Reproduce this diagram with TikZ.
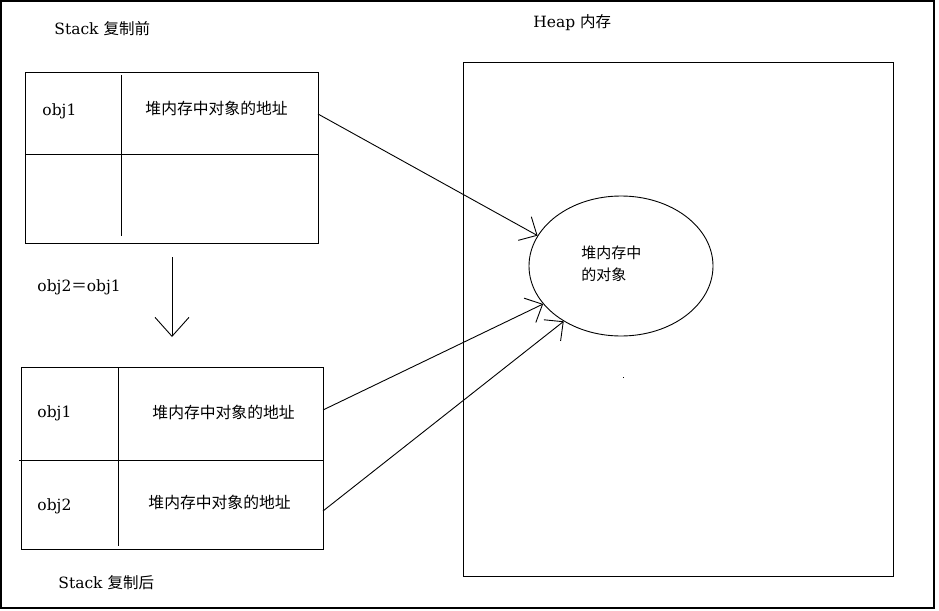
\documentclass[tikz,border=0pt]{standalone}
\usepackage{fontspec}
\setmainfont{DejaVu Serif}
\newfontfamily\cjk{Noto Sans CJK SC}
\usetikzlibrary{arrows.meta,shapes.geometric}
\begin{document}
\begin{tikzpicture}[x=1pt,y=-1pt,
  line width=0.9pt,
  lbl/.style={inner sep=0pt,anchor=base west,font=\fontsize{15.5}{18}\selectfont},
  zh/.style={inner sep=0pt,anchor=west,font=\fontsize{15.8}{19}\selectfont\cjk},
  box/.style={draw,rectangle,inner sep=0pt,anchor=north west},
  arr/.style={-{Straight Barb[length=14pt,width=27pt]}},
]
\useasboundingbox (0,0) rectangle (939,610);
\draw[line width=1.5pt] (1,1) rectangle (934,608);

% stack before
\node[lbl] (tbefore) at (54,35) {Stack {\cjk 复制前}};
\node[box,minimum width=293pt,minimum height=171pt] (before) at (25,72) {};
\draw (121,75) -- (121,236);
\draw (before.west |- 0,154) -- (before.east |- 0,154);
\node[lbl] (b1) at (42,115) {obj1};
\node[zh] (b1a) at (145,108) {堆内存中对象的地址};
\coordinate (s1) at (318,114);

% copy arrow
\node[lbl] (assign) at (37,291) {obj2{\cjk ＝}obj1};
\coordinate (d1) at (172,257);
\coordinate (d2) at (172,337);
\draw[-{Straight Barb[length=19pt,width=34pt]}] (d1) -- (d2);

% stack after
\node[box,minimum width=302pt,minimum height=182pt] (after) at (21,367) {};
\draw (118,367) -- (118,546);
\draw (19,460) -- (after.east |- 0,460);
\node[lbl] (a1) at (37,417) {obj1};
\node[zh] (a1a) at (152,412) {堆内存中对象的地址};
\node[lbl] (a2) at (37,510) {obj2};
\node[zh] (a2a) at (148,502) {堆内存中对象的地址};
\node[lbl] (tafter) at (58,588) {Stack {\cjk 复制后}};
\coordinate (s2) at (323,410);
\coordinate (s3) at (323,511);

% heap
\node[lbl] (theap) at (533,28) {Heap {\cjk 内存}};
\node[box,minimum width=430pt,minimum height=514pt] (heap) at (463,62) {};
\node[draw,ellipse,inner sep=0pt,minimum width=184pt,minimum height=140pt] (obj) at (621,266) {};
\node[zh,font=\fontsize{15}{22}\selectfont\cjk,align=left] (objt) at (581,264) {堆内存中\\的对象};
\fill (622.5,376.5) rectangle (624,378);

% references
\draw[arr] (s1) -- (obj.160);
\draw[arr] (s2) -- (obj.206);
\draw[arr] (s3) -- (obj.224);
\end{tikzpicture}
\end{document}
